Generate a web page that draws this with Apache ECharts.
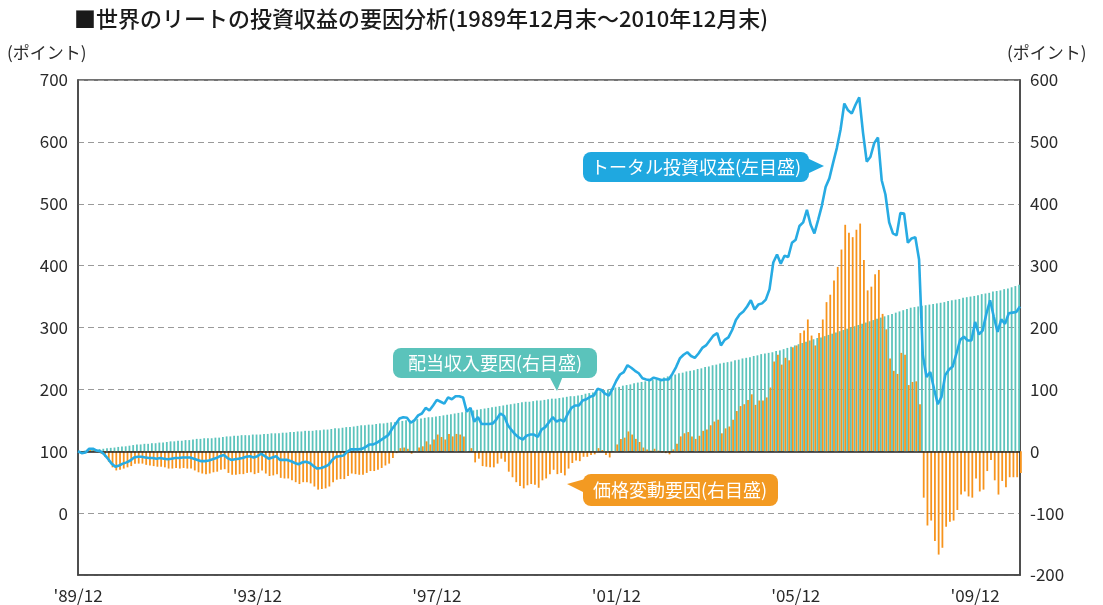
<!DOCTYPE html>
<html>
<head>
<meta charset="utf-8">
<script src="https://cdn.jsdelivr.net/npm/echarts@6/dist/echarts.min.js"></script>
<style>
html,body{margin:0;padding:0;background:#fff;}
#chart{width:1103px;height:605px;}
</style>
</head>
<body>
<div id="chart"></div>
<script>
// Monthly categories 1989/12 .. 2010/12 (253 months)
const months = [];
for (let k = 0; k < 253; k++) {
  const m = (11 + k) % 12 + 1;
  const y = 1989 + Math.floor((11 + k) / 12);
  months.push("'" + String(y).slice(2) + "/" + String(m).padStart(2, '0'));
}

// トータル投資収益 (left axis, points)
const totalReturn = [100,97,98,104,104,101,100,95,88,80,75,77,80,
 82,85,90,91,91,90,89,89,88,89,88,87,
 88,89,89,90,90,90,88,86,84,84,85,87,
 89,92,94,89,86,87,88,89,91,92,90,92,
 96,92,88,90,92,86,86,86,84,81,79,82,
 83,81,76,72,73,75,78,86,91,92,93,99,
 103,103,103,104,107,111,111,114,118,122,126,136,
 144,153,155,154,146,150,158,161,170,166,174,183,
 180,177,187,184,189,189,187,164,170,148,155,144,
 144,144,145,152,161,157,142,134,127,122,119,125,
 127,127,123,135,139,147,155,148,151,148,160,170,
 174,174,182,184,188,190,201,199,193,190,201,214,
 224,228,239,235,230,226,218,216,215,219,217,215,
 216,216,225,236,250,256,260,254,251,258,267,271,
 279,287,291,271,280,284,296,312,321,326,334,344,
 329,337,339,345,362,405,418,403,416,414,437,442,
 464,470,490,466,452,474,497,527,541,566,590,620,
 662,651,646,660,672,615,568,576,598,607,538,515,
 470,452,449,485,484,437,444,446,410,255,220,228,
 201,176,188,223,232,237,258,280,285,279,279,309,
 289,295,322,344,317,293,313,306,323,324,325,334];

// 配当収入要因 (right axis, points)
const dividendFactor = [0,0.5,1,1.5,2,3,3.5,4,5,5.5,6,7,7.5,
 8,9,10,11,11,12,12,13,13,14,14,15,
 16,16,17,17,18,18,19,20,20,21,21,21,
 22,22,23,24,24,25,25,26,26,26,27,27,
 27,28,28,29,29,29,30,30,31,31,32,32,
 33,33,33,34,34,35,35,36,37,37,38,39,
 39,40,41,42,42,43,43,44,45,45,46,47,
 47,48,49,50,50,51,52,53,54,55,55,56,
 57,58,59,60,61,62,63,64,65,66,67,68,
 69,70,71,72,73,74,75,76,77,78,79,80,
 80,81,82,82,83,84,85,85,86,87,88,89,
 89,90,91,93,94,95,96,97,99,100,102,103,
 104,106,107,108,110,111,112,113,114,115,116,117,
 119,121,122,124,126,127,129,130,131,133,134,136,
 137,139,140,142,143,144,145,147,148,150,151,152,
 154,155,157,158,159,160,162,163,165,167,169,171,
 173,175,177,179,181,183,184,186,188,190,192,194,
 196,198,200,202,204,206,208,210,212,214,216,218,
 220,222,224,226,228,230,232,233,234,235,236,237,
 238,239,240,241,243,244,245,246,248,249,250,251,
 252,254,255,256,258,259,260,262,263,265,267,269];

// 価格変動要因 (right axis, points)
const priceFactor = [0,-3,-3,3,2,-2,-4,-9,-17,-26,-31,-30,-28,
 -26,-24,-20,-20,-20,-22,-23,-24,-25,-25,-26,-28,
 -28,-27,-28,-27,-28,-28,-31,-34,-36,-37,-36,-34,
 -33,-30,-29,-35,-38,-38,-37,-37,-35,-34,-37,-35,
 -31,-36,-40,-39,-37,-43,-44,-44,-47,-50,-53,-50,
 -50,-52,-57,-62,-61,-60,-57,-50,-46,-45,-45,-40,
 -36,-37,-38,-38,-35,-32,-32,-30,-27,-23,-20,-11,
 -3,5,6,4,-4,-1,6,8,16,11,19,27,
 23,19,28,24,28,27,24,0,5,-18,-12,-24,
 -25,-26,-26,-20,-12,-17,-33,-42,-50,-56,-60,-55,
 -53,-54,-59,-47,-44,-37,-30,-37,-35,-39,-28,-19,
 -15,-16,-9,-9,-6,-5,5,2,-6,-10,-1,11,
 20,22,32,27,20,15,6,3,1,4,1,-2,
 -3,-5,3,12,24,29,31,24,20,25,33,35,
 42,48,51,29,37,40,51,65,73,76,83,92,
 75,82,82,87,103,145,156,140,151,147,168,171,
 191,195,213,187,171,191,213,241,253,276,298,326,
 366,353,346,358,368,309,260,266,286,293,222,197,
 150,130,125,159,156,107,112,113,76,-75,-120,-112,
 -145,-167,-156,-122,-114,-112,-95,-70,-65,-73,-75,-44,
 -65,-62,-32,-14,-47,-70,-48,-58,-42,-42,-42,-35];

const titleText = '■世界のリートの投資収益の要因分析(1989年12月末～2010年12月末)';
const axisUnit = '(ポイント)';
const lineLabel = 'トータル投資収益(左目盛)';
const divLabel = '配当収入要因(右目盛)';
const priceLabel = '価格変動要因(右目盛)';

const FONT = '"Noto Sans CJK JP", "Noto Sans", sans-serif';
const C_LINE = '#27abe3';
const C_DIV = '#5cc4bc';
const C_PRICE = '#f7941d';

const chart = echarts.init(document.getElementById('chart'), null, {renderer: 'canvas'});
chart.setOption({
  animation: false,
  backgroundColor: '#fff',
  textStyle: {fontFamily: FONT},
  grid: {left: 78, right: 83, top: 80, bottom: 30, show: true, borderColor: '#444', borderWidth: 1.5, backgroundColor: 'transparent'},
  xAxis: {
    type: 'category',
    data: months,
    boundaryGap: false,
    axisLine: {show: true, onZero: false, lineStyle: {color: '#444', width: 1.5}},
    axisTick: {show: false},
    axisLabel: {interval: 47, fontSize: 17, color: '#2a2a2a', margin: 12, fontFamily: FONT},
    splitLine: {show: false}
  },
  yAxis: [{
    type: 'value', min: -100, max: 700, interval: 100, position: 'left',
    axisLine: {show: true, lineStyle: {color: '#444', width: 1.5}},
    axisTick: {show: false},
    axisLabel: {fontSize: 17, color: '#2a2a2a', margin: 10, fontFamily: FONT,
      formatter: v => (v < 0 ? '' : String(v))},
    splitLine: {show: true, lineStyle: {color: '#9a9a9a', type: [6, 4], width: 1}}
  }, {
    type: 'value', min: -200, max: 600, interval: 100, position: 'right',
    axisLine: {show: true, lineStyle: {color: '#444', width: 1.5}},
    axisTick: {show: false},
    axisLabel: {fontSize: 17, color: '#2a2a2a', margin: 10, fontFamily: FONT},
    splitLine: {show: false}
  }],
  series: [{
    name: divLabel, type: 'bar', yAxisIndex: 1, data: dividendFactor,
    barWidth: 1.8, barGap: '0%', itemStyle: {color: C_DIV},
    markLine: {silent: true, symbol: 'none', label: {show: false},
      lineStyle: {color: '#222', type: 'solid', width: 1.5},
      data: [{yAxis: 0}]}
  }, {
    name: priceLabel, type: 'bar', yAxisIndex: 1, data: priceFactor,
    barWidth: 1.8, itemStyle: {color: C_PRICE}
  }, {
    name: lineLabel, type: 'line', yAxisIndex: 0, data: totalReturn,
    symbol: 'none', z: 5, lineStyle: {color: C_LINE, width: 2.6}, itemStyle: {color: C_LINE}
  }],
  graphic: [
    {type: 'text', left: 74, top: 8, style: {text: titleText, font: '500 22px ' + FONT, fill: '#1a1a1a'}},
    {type: 'text', left: 7, top: 44, style: {text: axisUnit, font: '17px ' + FONT, fill: '#2a2a2a'}},
    {type: 'text', left: 1007, top: 44, style: {text: axisUnit, font: '17px ' + FONT, fill: '#2a2a2a'}},
    // total return callout
    {type: 'rect', shape: {x: 583, y: 152, width: 226, height: 30, r: 8}, style: {fill: '#1fa8e0'}, z: 10},
    {type: 'polygon', shape: {points: [[807, 158], [824, 166], [807, 174]]}, style: {fill: '#1fa8e0'}, z: 10},
    {type: 'text', x: 696, y: 167, style: {text: lineLabel, font: '18px ' + FONT, fill: '#fff', align: 'center', verticalAlign: 'middle'}, z: 11},
    // dividend callout
    {type: 'rect', shape: {x: 393, y: 348, width: 204, height: 30, r: 8}, style: {fill: '#5bc3bb'}, z: 10},
    {type: 'polygon', shape: {points: [[549, 376], [563, 376], [557, 391]]}, style: {fill: '#5bc3bb'}, z: 10},
    {type: 'text', x: 495, y: 363, style: {text: divLabel, font: '18px ' + FONT, fill: '#fff', align: 'center', verticalAlign: 'middle'}, z: 11},
    // price callout
    {type: 'rect', shape: {x: 583, y: 474, width: 195, height: 32, r: 8}, style: {fill: '#f39a22'}, z: 10},
    {type: 'polygon', shape: {points: [[585, 479], [585, 493], [567, 484]]}, style: {fill: '#f39a22'}, z: 10},
    {type: 'text', x: 680, y: 490, style: {text: priceLabel, font: '18px ' + FONT, fill: '#fff', align: 'center', verticalAlign: 'middle'}, z: 11}
  ]
});
</script>
</body>
</html>
